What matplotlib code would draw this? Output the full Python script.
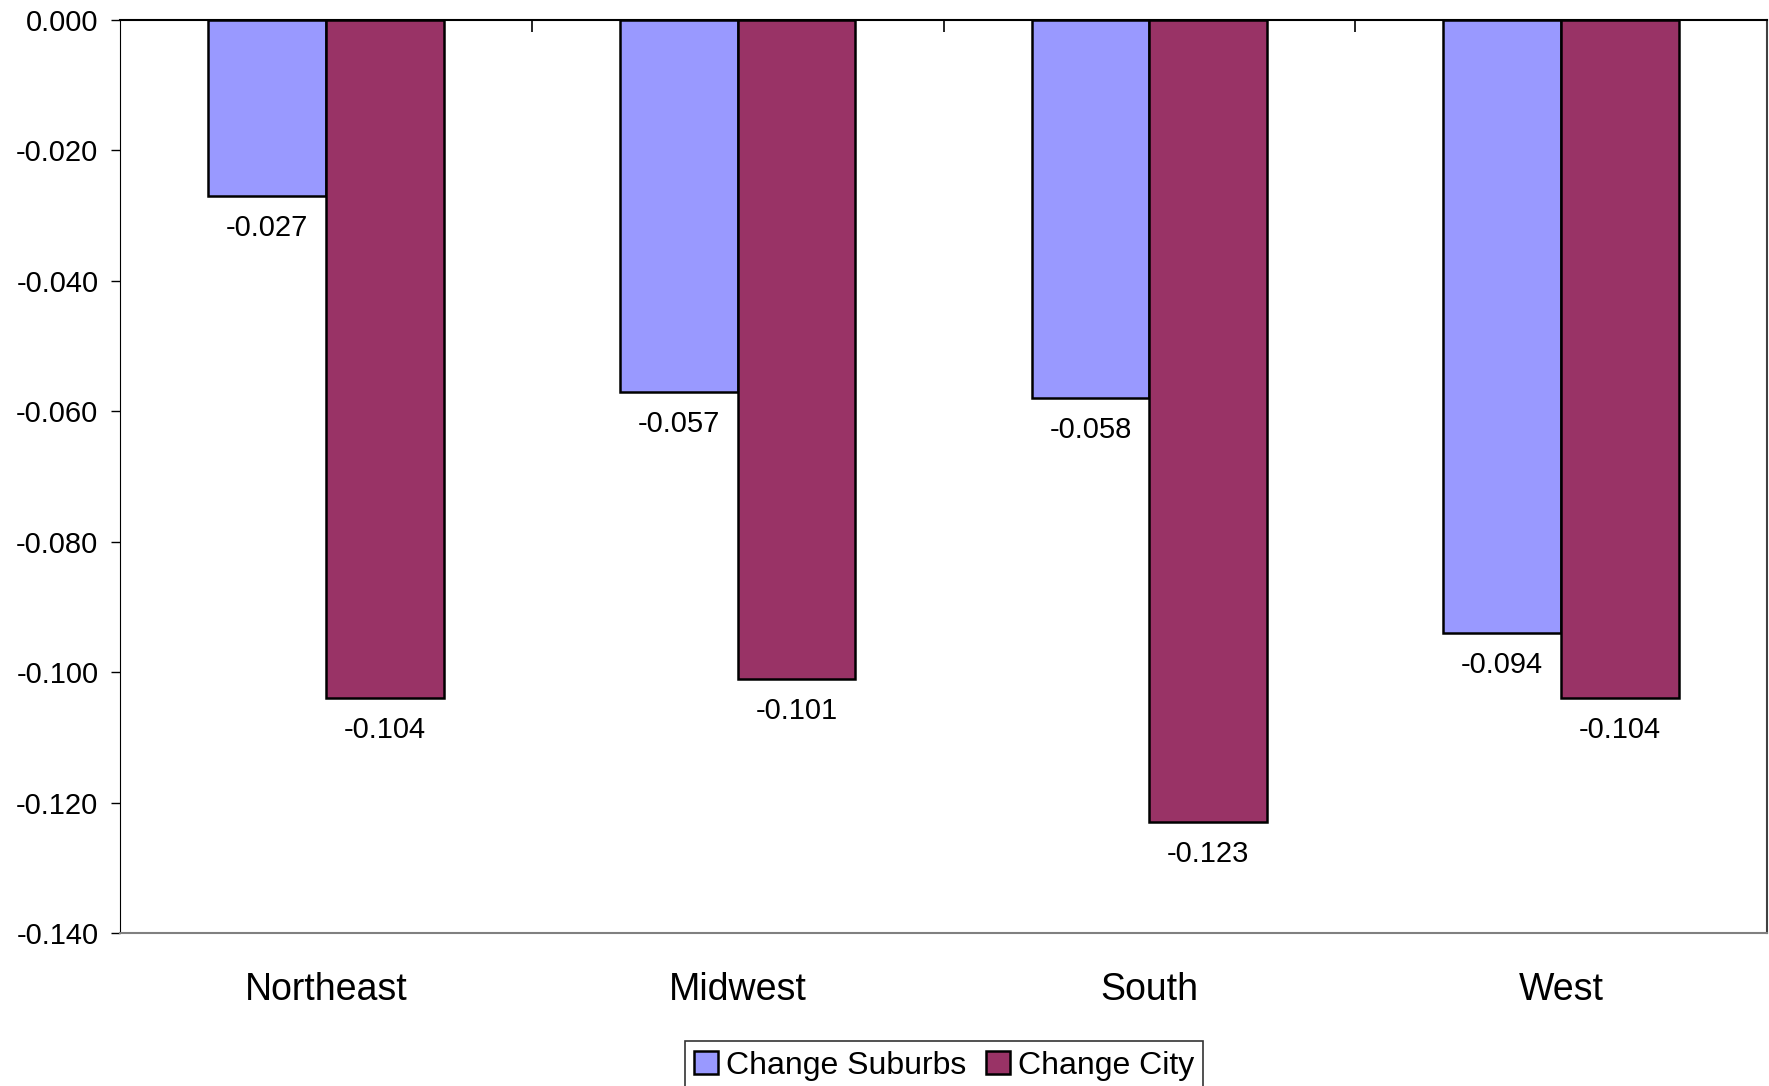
import numpy as np
import matplotlib
matplotlib.use("Agg")
import matplotlib.pyplot as plt
from matplotlib.ticker import FormatStrFormatter

plt.rcParams['font.family'] = ['Liberation Sans', 'DejaVu Sans']
plt.rcParams['axes.unicode_minus'] = False

# Data
regions = ['Northeast', 'Midwest', 'South', 'West']
suburbs = [-0.027, -0.057, -0.058, -0.094]
city = [-0.104, -0.101, -0.123, -0.104]
yticks = [0.0, -0.02, -0.04, -0.06, -0.08, -0.10, -0.12, -0.14]

W, H = 1769, 1086
fig = plt.figure(figsize=(W / 100, H / 100), dpi=100)
ax = fig.add_axes([120 / W, 1 - 933 / H, (1767 - 120) / W, (933 - 20) / H])

x = np.arange(len(regions)) + 0.5
w = 1 / 3.5  # Excel gap width 150%

b1 = ax.bar(x - w / 2, suburbs, w, color='#9999FF', edgecolor='black',
            linewidth=1.8, label='Change Suburbs')
b2 = ax.bar(x + w / 2, city, w, color='#993366', edgecolor='black',
            linewidth=1.8, label='Change City')

# Data labels under the bar ends
for bars, vals in ((b1, suburbs), (b2, city)):
    for rect, v in zip(bars, vals):
        ax.annotate('%.3f' % v, (rect.get_x() + rect.get_width() / 2, v),
                    xytext=(0, -13), textcoords='offset points',
                    ha='center', va='top', fontsize=21)

ax.set_xlim(0, len(regions))
ax.set_ylim(-0.14, 0.0)
ax.set_yticks(yticks)
ax.yaxis.set_major_formatter(FormatStrFormatter('%.3f'))
ax.tick_params(axis='y', labelsize=21, length=6.5, width=1, pad=9)

ax.set_xticks(x)
ax.set_xticklabels(regions)
ax.tick_params(axis='x', which='major', length=0, labelsize=27, pad=28)
ax.set_xticks(np.arange(1, len(regions)), minor=True)
ax.tick_params(axis='x', which='minor', top=True, bottom=False,
               direction='in', length=8.6, width=1.2)

ax.spines['left'].set_color('black')
ax.spines['top'].set_color('black')
ax.spines['top'].set_linewidth(1.5)
ax.spines['right'].set_color('#404040')
ax.spines['right'].set_linewidth(1.5)
ax.spines['bottom'].set_color('#808080')
ax.spines['bottom'].set_linewidth(1.5)

leg = fig.legend(loc='upper center', bbox_to_anchor=(944 / W, 1 - 1041 / H),
                 ncol=2, fontsize=23, frameon=True, fancybox=False,
                 edgecolor='black', handlelength=0.75, handleheight=0.75,
                 handletextpad=0.25, columnspacing=0.6, borderpad=0.3,
                 borderaxespad=0)
leg.get_frame().set_linewidth(1.2)
for p in leg.get_patches():
    p.set_linewidth(1.8)

fig.savefig('out.png', dpi=100)
